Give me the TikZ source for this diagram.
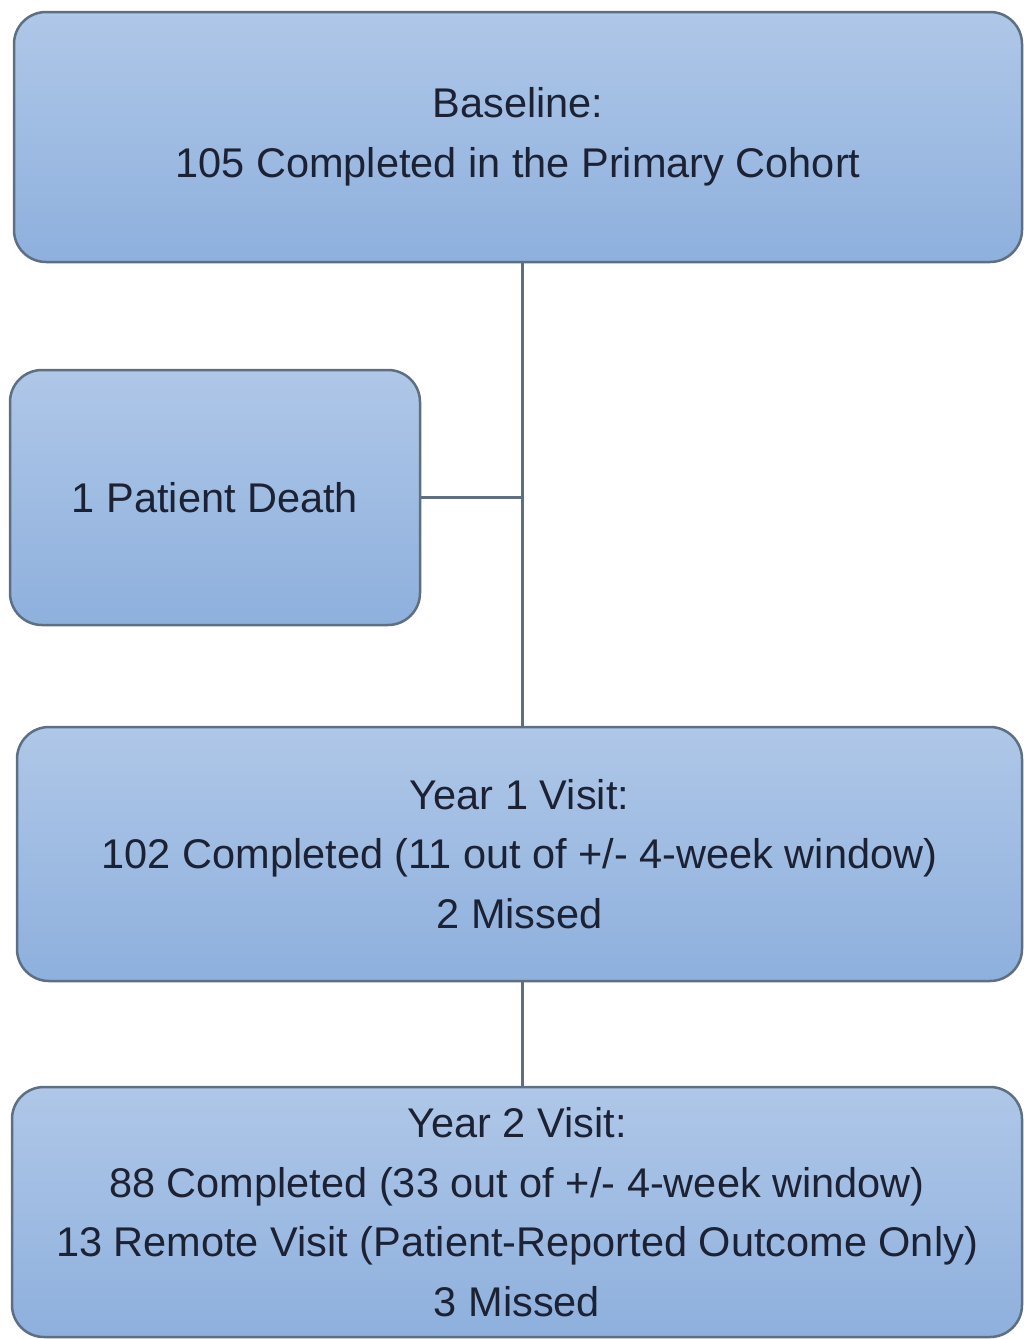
\documentclass[tikz,border=0pt]{standalone}
\usepackage{fontspec}
\setmainfont{Liberation Sans}
\usetikzlibrary{positioning,calc}
\definecolor{boxtop}{HTML}{AFC7E8}
\definecolor{boxbot}{HTML}{8EB0DD}
\definecolor{boxline}{HTML}{5E6F82}
\definecolor{boxtext}{HTML}{1C2233}

\begin{document}
\begin{tikzpicture}[
    x=1pt,y=-1pt,
    stage/.style={draw=boxline,line width=2.5pt,rectangle,rounded corners=32pt,
                  top color=boxtop,bottom color=boxbot,align=center,
                  text=boxtext,inner sep=0pt,
                  font=\fontsize{41.5}{59.5}\selectfont},
    link/.style={draw=boxline,line width=3pt}
  ]
    \useasboundingbox (0,0) rectangle (1023,1339);

    \node[stage,minimum width=1008pt,minimum height=250pt] (base) at (518,137)
      {Baseline:\\105 Completed in the Primary Cohort};
    \node[stage,minimum width=410pt,minimum height=255pt] (death) at (215,497.5)
      {1 Patient Death};
    \node[stage,minimum width=1005pt,minimum height=254pt] (y1) at (519.5,854)
      {Year 1 Visit:\\102 Completed (11 out of +/- 4-week window)\\2 Missed};
    \node[stage,minimum width=1010pt,minimum height=250pt] (y2) at (517,1212)
      {Year 2 Visit:\\88 Completed (33 out of +/- 4-week window)\\13 Remote Visit (Patient-Reported Outcome Only)\\3 Missed};

    %% trunk with side branch
    \coordinate (j) at (522,497.5);
    \draw[link] (base.south -| j) -- (y1.north -| j);
    \draw[link] (death.east) -- (j);
    \draw[link] (y1.south -| j) -- (y2.north -| j);
  \end{tikzpicture}
\end{document}
